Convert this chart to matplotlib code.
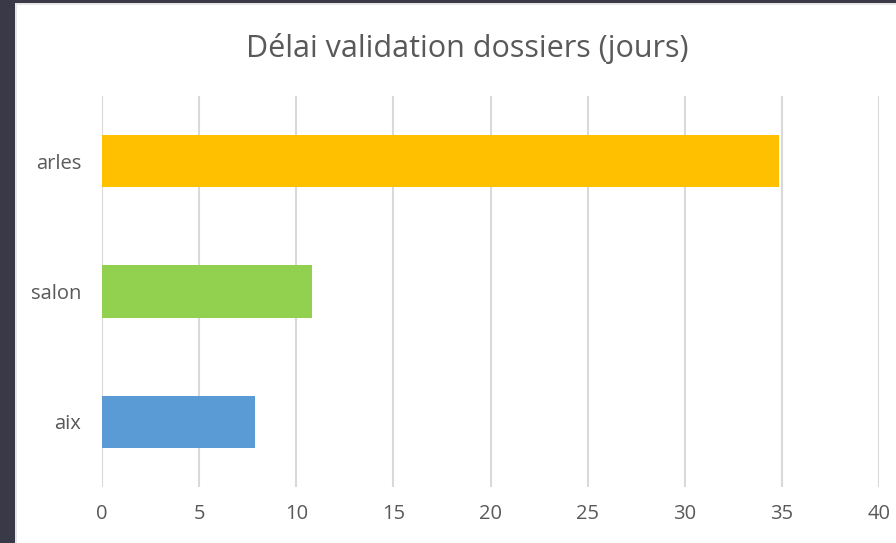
import matplotlib.pyplot as plt
from matplotlib.patches import Rectangle

villes = ['aix', 'salon', 'arles']
delais = [7.9, 10.8, 34.85]
couleurs = ['#5B9BD5', '#92D050', '#FFC000']
ticks_x = [0, 5, 10, 15, 20, 25, 30, 35, 40]

plt.rcParams['font.family'] = ['Open Sans', 'DejaVu Sans']

W, H = 896, 543
fig = plt.figure(figsize=(W / 100, H / 100), dpi=100)
fig.patch.set_facecolor('#3a3947')

# cadre blanc du graphique (style capture Excel)
bg = fig.add_axes([0, 0, 1, 1], zorder=-10)
bg.set_xlim(0, W)
bg.set_ylim(H, 0)
bg.axis('off')
bg.add_patch(Rectangle((15, 3), W, H, facecolor='#e6e6e6', edgecolor='none'))
bg.add_patch(Rectangle((17, 5), W, H, facecolor='white', edgecolor='none'))

ax = fig.add_axes([102 / W, 1 - 487 / H, (879 - 102) / W, (487 - 96) / H])
ax.set_facecolor('none')
ax.barh(villes, delais, height=0.4, color=couleurs, zorder=3)

ax.set_xlim(0, 40)
ax.set_ylim(-0.5, 2.5)
ax.set_xticks(ticks_x)
ax.grid(axis='x', color='#d9d9d9', linewidth=1.5, zorder=0)
for s in ax.spines.values():
    s.set_visible(False)
ax.tick_params(length=0, labelsize=14.5, colors='#595959')
ax.tick_params(axis='y', pad=15)
ax.tick_params(axis='x', pad=12)

fig.text(467 / W, 1 - 48 / H, 'Délai validation dossiers (jours)', ha='center', va='center',
         fontsize=22, color='#595959')

plt.savefig('out.png', dpi=100)
plt.close()
